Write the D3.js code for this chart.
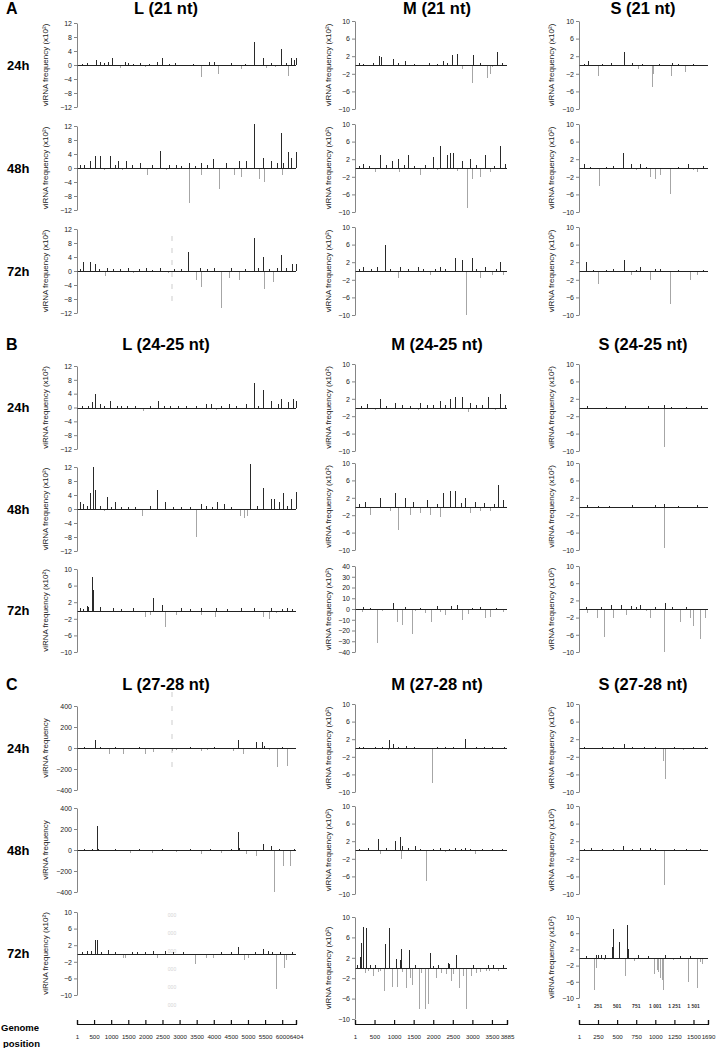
<!DOCTYPE html>
<html>
<head>
<meta charset="utf-8">
<script src="https://cdn.jsdelivr.net/npm/d3@7"></script>
<style>
  body { margin: 0; background: #fff; }
  text { font-family: "Liberation Sans", Arial, sans-serif; }
</style>
</head>
<body>
<svg id="fig" width="720" height="1048"></svg>
<script>
// genome segments and their lengths (nt)
const segments = ["L", "M", "S"];
const genomeLen = { L: 6404, M: 3885, S: 1690 };
const genomeTicks = {
  L: [1, 500, 1000, 1500, 2000, 2500, 3000, 3500, 4000, 4500, 5000, 5500, 6000, 6404],
  M: [1, 500, 1000, 1500, 2000, 2500, 3000, 3500, 3885],
  S: [1, 250, 500, 750, 1000, 1250, 1500, 1690]
};
const sections = ["A", "B", "C"];
const sizeClasses = { A: "21 nt", B: "24-25 nt", C: "27-28 nt" };
const timepoints = ["24h", "48h", "72h"];
const innerTicksS = [1, 251, 501, 751, 1001, 1251, 1501];
const innerTickLabelsS = ["1", "251", "501", "751", "1 001", "1 251", "1 501"];

// [genome position, viRNA frequency]  (negative = antisense)
// --- A: 21 nt ---
const A_L_24 = [[150,0.4],[300,0.5],[420,-0.3],[560,1.5],[680,1],[780,0.5],[910,0.8],[1030,2],[1150,-0.4],[1264,-0.8],[1410,0.8],[1500,0.6],[1650,0.4],[1850,0.7],[2000,-0.6],[2100,0.3],[2350,1],[2500,2],[2700,0.4],[2880,0.5],[3200,-0.3],[3400,0.3],[3616,-3.5],[3850,1],[4000,1],[4116,-2.5],[4300,-0.4],[4500,0.6],[4790,-1],[4900,0.3],[5174,6.5],[5440,2],[5530,-0.8],[5670,0.5],[5800,-0.5],[5970,4.5],[6100,0.6],[6174,-3],[6262,2],[6350,1.5],[6390,2]];
const A_M_24 = [[100,0.4],[200,0.3],[450,0.4],[612,2],[663,1.8],[800,-0.3],[969,1.3],[1100,0.5],[1275,1],[1500,0.3],[1700,-0.3],[1900,0.4],[2100,0.3],[2244,0.8],[2350,0.5],[2474,2.2],[2601,2.5],[2729,-1],[2984,-4],[3009,2.3],[3200,0.4],[3366,-3],[3443,-2],[3500,-0.5],[3621,3],[3750,0.5]];
const A_S_24 = [[60,0.3],[117,1],[247,-2.5],[300,0.3],[416,0.5],[450,-0.3],[585,3],[700,0.4],[767,-0.8],[820,0.3],[962,-5],[975,-2],[1050,0.3],[1209,-2.5],[1222,0.5],[1300,0.3],[1391,-1.5],[1500,0.3],[1600,-0.3],[1677,-0.3]];
const A_L_48 = [[88,0.8],[200,1],[382,2],[529,3.5],[676,3.5],[800,-0.5],[970,3.5],[1100,1],[1205,2],[1330,-0.6],[1441,2],[1600,0.8],[1852,1.5],[2058,-2],[2200,0.8],[2440,5],[2600,-0.7],[2700,0.8],[2881,1],[3050,0.6],[3263,1.5],[3290,-10],[3450,0.7],[3616,1.5],[3640,-2],[3800,0.8],[3969,2.5],[4145,-6],[4351,1.5],[4586,-2],[4733,2],[4792,-2.5],[4939,2],[5174,12.5],[5321,-3],[5439,3],[5468,-4],[5674,2],[5850,1.5],[5968,10],[5990,-2],[6027,1.5],[6174,4.5],[6262,3],[6390,4.5]];
const A_M_48 = [[100,0.5],[204,1],[350,0.5],[510,-1],[638,3],[800,0.6],[944,1.5],[1097,2],[1120,-1],[1250,0.6],[1352,3],[1500,0.5],[1658,-1.5],[1800,0.6],[1989,2.5],[2100,-0.5],[2168,5],[2346,3],[2423,3.5],[2500,3.5],[2600,-0.7],[2729,1.5],[2856,-9],[2933,2],[2984,-2.5],[3100,0.6],[3188,-2],[3315,3],[3443,-1],[3550,0.5],[3698,5],[3825,1]];
const A_S_48 = [[65,1],[150,0.3],[260,-4],[350,0.3],[450,0.4],[572,3.5],[676,1],[750,-0.4],[806,1],[880,0.3],[936,-2],[1001,-2.5],[1066,-1.5],[1196,-6],[1300,0.3],[1430,1],[1500,-0.4],[1547,-1],[1620,0.4]];
const A_L_72 = [[100,0.5],[176,2.5],[382,2.5],[529,2],[650,0.6],[823,-1.5],[882,1],[1050,0.5],[1250,0.6],[1500,1],[1646,-0.7],[1800,0.5],[2029,1],[2200,0.4],[2440,1],[2650,-0.5],[2850,0.6],[3050,0.5],[3234,5.5],[3469,-2.5],[3600,1],[3616,-4.5],[3800,0.5],[3998,1],[4204,-10.5],[4439,-2],[4498,1],[4733,-2.5],[4900,0.6],[5174,9.5],[5300,0.8],[5439,4],[5460,-5],[5600,0.6],[5733,-3],[5850,0.8],[5968,4.5],[6100,1],[6292,2],[6390,2]];
const A_M_72 = [[100,0.4],[204,1],[400,0.4],[561,1],[765,6],[900,0.5],[1097,-1.5],[1148,1],[1350,0.5],[1607,1],[1750,0.4],[1913,-1],[2050,0.5],[2168,1],[2300,0.5],[2550,3],[2729,2.5],[2831,-10],[2984,3],[3100,0.5],[3188,-1.5],[3315,1],[3494,-0.8],[3600,0.5],[3698,2],[3774,-1]];
const A_S_72 = [[91,2],[180,0.3],[247,-3],[350,0.3],[450,0.4],[585,2.5],[676,-1],[750,0.3],[806,1],[936,-2],[1000,0.4],[1066,0.5],[1196,-7.5],[1300,0.3],[1456,-2],[1547,-1],[1620,0.3]];
// --- B: 24-25 nt ---
const B_L_24 = [[147,0.5],[323,0.5],[441,1.5],[529,4],[676,1],[800,0.3],[970,2],[1176,0.5],[1300,0.3],[1470,0.5],[1700,0.3],[1940,-1],[2146,0.5],[2381,2],[2550,0.3],[2734,0.3],[2950,0.3],[3200,0.4],[3469,0.5],[3557,-0.5],[3763,1],[3910,1],[4057,-0.8],[4204,0.5],[4439,1],[4650,0.4],[4939,1],[5174,7],[5300,0.5],[5439,5],[5674,2],[5880,1],[5968,2.5],[6115,-0.5],[6174,1.5],[6321,2.5],[6390,2]];
const B_M_24 = [[150,0.4],[306,0.7],[510,-0.5],[638,2],[800,0.4],[1020,1],[1200,0.5],[1400,0.4],[1607,-0.5],[1658,1],[1850,0.6],[2000,0.5],[2168,1.5],[2300,0.6],[2423,2],[2550,2.5],[2729,2.5],[2882,-1],[2933,1],[3100,0.5],[3250,0.6],[3392,2.5],[3570,-0.5],[3698,3],[3825,0.5]];
const B_S_24 = [[100,0.3],[250,-0.2],[350,0.2],[600,0.3],[800,-0.2],[900,0.3],[1110,0.5],[1118,-9],[1200,0.2],[1400,0.2],[1600,0.3]];
const B_L_48 = [[88,2],[176,1.5],[294,1],[382,4.5],[470,12],[529,5.5],[676,1],[800,-0.5],[882,3.5],[1000,0.6],[1117,2],[1300,0.5],[1500,0.5],[1700,0.6],[1911,-2],[2146,1],[2352,5.5],[2587,2],[2800,0.5],[3050,0.6],[3300,0.5],[3469,-8],[3616,1.5],[3763,1],[3950,0.6],[4087,2],[4292,1.5],[4500,0.6],[4763,-2],[4880,-2.5],[4969,-2],[5057,13],[5250,1],[5439,6],[5674,3],[5762,3],[5909,2],[6027,4.5],[6150,1],[6262,3],[6390,5]];
const B_M_48 = [[100,0.5],[255,1],[383,-2],[638,2],[893,-1],[1020,3],[1097,-5.5],[1275,2],[1403,-2],[1479,1],[1658,-1.5],[1836,1.5],[1913,-2],[2100,0.6],[2168,-2.5],[2244,3],[2423,3.5],[2550,3.5],[2700,0.8],[2805,2],[2933,-1.5],[3060,1],[3188,-1],[3300,0.8],[3443,-1],[3550,0.6],[3647,5],[3774,1.5]];
const B_S_48 = [[100,0.3],[250,0.2],[400,0.2],[550,-0.2],[700,0.3],[1000,0.3],[1110,0.5],[1118,-9.5],[1300,0.2],[1450,-0.2],[1550,0.3]];
const B_L_72 = [[88,0.5],[176,0.3],[294,1],[323,0.8],[441,8],[470,5],[676,0.8],[850,-0.4],[1058,0.5],[1300,0.4],[1646,0.5],[2000,-1.5],[2146,-1],[2234,3],[2499,1.3],[2587,-4],[2881,-1],[3028,0.5],[3300,0.4],[3616,0.5],[3640,-1],[4028,-1.5],[4057,0.5],[4400,0.4],[4792,0.5],[5000,-0.4],[5174,0.5],[5439,-1.5],[5615,-2],[5674,0.5],[5821,-0.5],[6000,0.4],[6145,0.5],[6300,0.4]];
const B_M_72 = [[179,-3],[204,2],[383,1],[561,-32],[700,-2],[969,6],[1071,-12],[1199,-15],[1275,2],[1454,-23],[1530,-2],[1650,1],[1785,-4],[1938,-12],[2091,3],[2168,-3],[2295,-6],[2448,3],[2601,4],[2729,-10],[2882,-5],[3000,1],[3188,2],[3315,-8],[3443,-7],[3600,1],[3774,-3]];
const B_S_72 = [[91,0.5],[100,-1],[234,-2],[286,0.5],[325,-6.5],[416,1],[442,-2],[546,1],[611,-1.5],[676,0.8],[750,0.4],[806,1],[880,-0.5],[936,-2],[1000,0.4],[1118,-10],[1131,1.5],[1222,0.5],[1326,-3],[1400,0.4],[1456,-2],[1495,-4],[1586,-7],[1651,-2]];
// --- C: 27-28 nt ---
const C_L_24 = [[200,5],[400,-8],[529,75],[676,10],[800,-10],[941,-60],[1100,6],[1352,-60],[1600,-10],[1800,8],[1999,-60],[2234,-40],[2500,-10],[2793,-30],[2881,-20],[3100,-10],[3300,6],[3616,-30],[3800,-15],[4000,5],[4300,-10],[4557,-30],[4704,75],[4851,-60],[5000,-10],[5232,60],[5409,60],[5468,20],[5600,-20],[5850,-180],[6000,10],[6145,-170],[6300,-10]];
const C_M_24 = [[100,0.3],[200,0.3],[500,0.2],[700,0.3],[842,-0.5],[867,1.8],[969,1],[1100,0.3],[1300,0.5],[1500,0.3],[1700,-0.3],[1964,-8],[2100,0.3],[2300,0.3],[2500,0.3],[2805,2],[3100,0.3],[3300,0.2],[3500,0.3],[3800,0.3]];
const C_S_24 = [[60,0.2],[130,-0.3],[300,0.2],[450,0.2],[585,0.8],[700,0.2],[850,0.2],[1000,0.2],[1105,-3],[1131,-7],[1250,0.2],[1365,-0.5],[1500,0.2],[1650,0.2]];
const C_L_48 = [[200,5],[450,8],[588,230],[620,10],[800,-10],[1100,6],[1300,-10],[1558,-30],[1800,6],[2205,-30],[2500,8],[2881,-20],[3100,-10],[3300,6],[3616,-40],[3900,6],[4204,-30],[4500,8],[4704,170],[4750,20],[4939,-40],[5232,-60],[5439,60],[5674,40],[5762,-400],[5900,10],[6030,-150],[6240,-150],[6350,10]];
const C_M_48 = [[100,0.3],[332,0.5],[587,2.5],[638,-1],[800,0.4],[1020,2],[1148,3],[1170,-2],[1199,1],[1350,0.4],[1530,0.8],[1650,0.3],[1811,-7],[2000,0.3],[2168,0.5],[2295,-0.5],[2400,0.3],[2550,0.5],[2700,0.3],[2805,0.5],[2950,0.3],[3060,-1],[3250,0.3],[3500,0.3],[3750,0.3]];
const C_S_48 = [[60,0.3],[156,0.5],[300,0.2],[450,0.2],[572,0.8],[700,0.3],[806,0.5],[936,0.5],[1000,0.2],[1118,-8],[1250,0.2],[1400,0.2],[1586,0.3]];
const C_L_72 = [[150,0.3],[294,0.5],[412,0.5],[529,3.2],[588,3.2],[700,0.3],[911,0.8],[1100,0.3],[1352,-1],[1411,-1],[1600,0.3],[1764,0.3],[2000,0.4],[2234,0.5],[2352,-1],[2587,0.5],[2800,0.3],[3100,0.4],[3440,-2.5],[3763,-1],[3969,-1],[4200,0.4],[4500,0.3],[4704,1.5],[4880,-1.5],[4998,-1],[5200,0.3],[5439,1],[5586,0.5],[5700,0.4],[5821,-8.5],[5950,0.4],[6056,-3.5],[6115,-1.5],[6300,0.3]];
const C_M_72 = [[60,0.5],[127,2.2],[152,5],[203,8],[254,-1],[279,7.8],[330,-0.5],[381,0.5],[457,-1.5],[508,0.5],[584,-0.8],[650,-0.6],[737,-4.5],[762,4.8],[864,7.8],[940,-3.7],[1041,1.8],[1067,-3.8],[1143,1.5],[1168,3.7],[1200,-0.8],[1295,-4],[1372,3.6],[1400,-2],[1448,-3.4],[1530,0.5],[1626,-8],[1700,-1],[1778,-8],[1854,-7],[1905,3],[2000,0.4],[2083,-2],[2134,0.5],[2210,-1],[2337,-1.2],[2388,1],[2413,0.7],[2464,-2.5],[2500,-1.2],[2591,2.5],[2667,-4],[2750,-1.5],[2845,-8],[2972,-1.5],[3023,0.5],[3099,-1],[3200,-0.8],[3350,-0.6],[3404,0.5],[3430,-0.5],[3531,0.5],[3658,-0.5],[3785,0.5]];
const C_S_72 = [[91,0.3],[195,-8],[221,0.5],[228,-2.5],[247,0.5],[286,0.5],[325,-0.5],[338,0.5],[429,2.5],[442,7],[520,3.8],[598,-4.5],[624,8],[637,2],[715,-0.8],[767,0.5],[900,0.3],[988,-4],[1027,-3],[1040,-3.5],[1066,-5],[1092,-5.5],[1105,-8],[1131,0.5],[1235,-0.5],[1326,0.3],[1430,-6],[1456,0.3],[1547,-7.5],[1586,-1],[1612,-1.5]];

// y-axis limits per panel (x10^2 except the raw 400 ones)
const limits = {
  A: { L: [12, 12, 12], M: [10, 10, 10], S: [10, 10, 10] },
  B: { L: [12, 12, 10], M: [10, 10, 40], S: [10, 10, 10] },
  C: { L: [400, 400, 10], M: [10, 10, 10], S: [10, 10, 10] }
};
const tickSets = {
  12: [12, 8, 4, 0, -4, -8, -12],
  10: [10, 6, 2, -2, -6, -10],
  40: [40, 30, 20, 10, 0, -10, -20, -30, -40],
  400: [400, 200, 0, -200, -400]
};

const panelData = {
  A: { L: [A_L_24, A_L_48, A_L_72], M: [A_M_24, A_M_48, A_M_72], S: [A_S_24, A_S_48, A_S_72] },
  B: { L: [B_L_24, B_L_48, B_L_72], M: [B_M_24, B_M_48, B_M_72], S: [B_S_24, B_S_48, B_S_72] },
  C: { L: [C_L_24, C_L_48, C_L_72], M: [C_M_24, C_M_48, C_M_72], S: [C_S_24, C_S_48, C_S_72] }
};

// faint scan marks left on the original figure (L column, around 2900 nt)
const scanMarksA = [236, 248, 260, 272, 284, 296];
const scanMarksC = [692, 706, 720, 734, 748, 762];
const scanMarksC72 = [915, 933, 951, 969, 987, 1005];

// ---------- layout ----------
const cols = {
  L: { x0: 77, x1: 296, lab: 45, title: 166 },
  M: { x0: 355, x1: 507, lab: 328, title: 437 },
  S: { x0: 579, x1: 708, lab: 551, title: 643 }
};
// [top, bottom] of each panel: first for L, second for M and S
const rowBox = {
  A: [[[23, 107], [21, 109]], [[126, 210], [124, 212]], [[229, 313], [227, 315]]],
  B: [[[366, 449], [364, 451]], [[467, 551], [463, 550]], [[569, 652], [566, 652]]],
  C: [[[706, 790], [704, 792]], [[808, 892], [806, 894]], [[912, 995], [917, 1019]]]
};
const secTop = { A: 14, B: 350, C: 690 };
const genomeAxisY = 1024;

const posColor = "#2a2a2a", negColor = "#a6a6a6";
const svg = d3.select("#fig");

function boxFor(sec, seg, ti) {
  if (sec === "C" && seg === "S" && ti === 2) return [917, 998];
  return rowBox[sec][ti][seg === "L" ? 0 : 1];
}

// scan marks first so everything else sits on top
const markX = 172;
svg.append("g").selectAll("rect").data(scanMarksA.concat(scanMarksC)).enter().append("rect")
  .attr("x", markX - 1).attr("y", d => d).attr("width", 2).attr("height", 5).attr("fill", "#e6e6e6");
svg.append("g").selectAll("text").data(scanMarksC72).enter().append("text")
  .attr("x", markX).attr("y", d => d + 2).attr("text-anchor", "middle")
  .attr("font-size", 5).attr("fill", "#d4d4d4").text("000");

sections.forEach(sec => {
  svg.append("text").attr("x", 6).attr("y", secTop[sec])
    .attr("font-size", 16).attr("font-weight", "bold").text(sec);

  segments.forEach(seg => {
    svg.append("text").attr("x", cols[seg].title).attr("y", secTop[sec])
      .attr("text-anchor", "middle").attr("font-size", 16.5).attr("font-weight", "bold")
      .text(seg + " (" + sizeClasses[sec] + ")");
  });

  timepoints.forEach((t, ti) => {
    const lb = boxFor(sec, "L", ti);
    svg.append("text").attr("x", 7).attr("y", (lb[0] + lb[1]) / 2 + 4.5)
      .attr("font-size", 13).attr("font-weight", "bold").text(t);

    segments.forEach(seg => {
      const c = cols[seg];
      const box = boxFor(sec, seg, ti);
      const lim = limits[sec][seg][ti];
      const data = panelData[sec][seg][ti];

      const x = d3.scaleLinear().domain([1, genomeLen[seg]]).range([c.x0, c.x1]);
      const y = d3.scaleLinear().domain([-lim, lim]).range([box[1], box[0]]);
      const g = svg.append("g");

      // bars
      g.append("g").selectAll("line").data(data).enter().append("line")
        .attr("x1", d => Math.round(x(d[0])) + 0.5)
        .attr("x2", d => Math.round(x(d[0])) + 0.5)
        .attr("y1", y(0))
        .attr("y2", d => y(d[1]))
        .attr("stroke", d => d[1] >= 0 ? posColor : negColor)
        .attr("stroke-width", 1)
        .attr("shape-rendering", "crispEdges");

      // zero line
      g.append("line")
        .attr("x1", c.x0).attr("x2", c.x1)
        .attr("y1", Math.round(y(0)) + 0.5).attr("y2", Math.round(y(0)) + 0.5)
        .attr("stroke", "#222").attr("stroke-width", 1);

      // y axis
      const ax = g.append("g").attr("transform", "translate(" + c.x0 + ",0)")
        .call(d3.axisLeft(y).tickValues(tickSets[lim]).tickSize(3).tickSizeOuter(0).tickPadding(2)
          .tickFormat(d3.format("d")));
      ax.selectAll("text").attr("font-size", 7).attr("fill", "#222")
        .style("font-family", "'Liberation Sans', Arial, sans-serif");
      ax.selectAll("path,line").attr("stroke", "#666").attr("stroke-width", 0.8);

      // y label
      svg.append("text")
        .attr("transform", "translate(" + c.lab + "," + (box[0] + box[1]) / 2 + ") rotate(-90)")
        .attr("text-anchor", "middle").attr("dy", "0.35em")
        .attr("font-size", 8).attr("fill", "#222")
        .text(lim === 400 ? "viRNA frequency" : "viRNA frequency (x10²)");

      // extra position labels under the S 72h panel of section C
      if (sec === "C" && seg === "S" && ti === 2) {
        svg.append("g").selectAll("text").data(innerTicksS).enter().append("text")
          .attr("x", d => x(d)).attr("y", box[1] + 10)
          .attr("text-anchor", "middle").attr("font-size", 5).attr("font-weight", "bold")
          .attr("fill", "#333")
          .text((d, i) => innerTickLabelsS[i]);
      }
    });
  });
});

// genome position axes
segments.forEach(seg => {
  const c = cols[seg];
  const x = d3.scaleLinear().domain([1, genomeLen[seg]]).range([c.x0, c.x1]);
  const ax = svg.append("g").attr("transform", "translate(0," + genomeAxisY + ")")
    .call(d3.axisBottom(x).tickValues(genomeTicks[seg]).tickSize(-4).tickSizeOuter(-4)
      .tickPadding(11).tickFormat(d3.format("d")));
  ax.selectAll("path,line").attr("stroke", "#111").attr("stroke-width", 1.2);
  ax.selectAll("text").attr("font-size", 6.2).attr("fill", "#222")
    .style("font-family", "'Liberation Sans', Arial, sans-serif");
});

svg.append("text").attr("x", 1).attr("y", 1031).attr("font-size", 9.5).attr("font-weight", "bold").text("Genome");
svg.append("text").attr("x", 3).attr("y", 1047).attr("font-size", 9.5).attr("font-weight", "bold").text("position");
</script>
</body>
</html>
